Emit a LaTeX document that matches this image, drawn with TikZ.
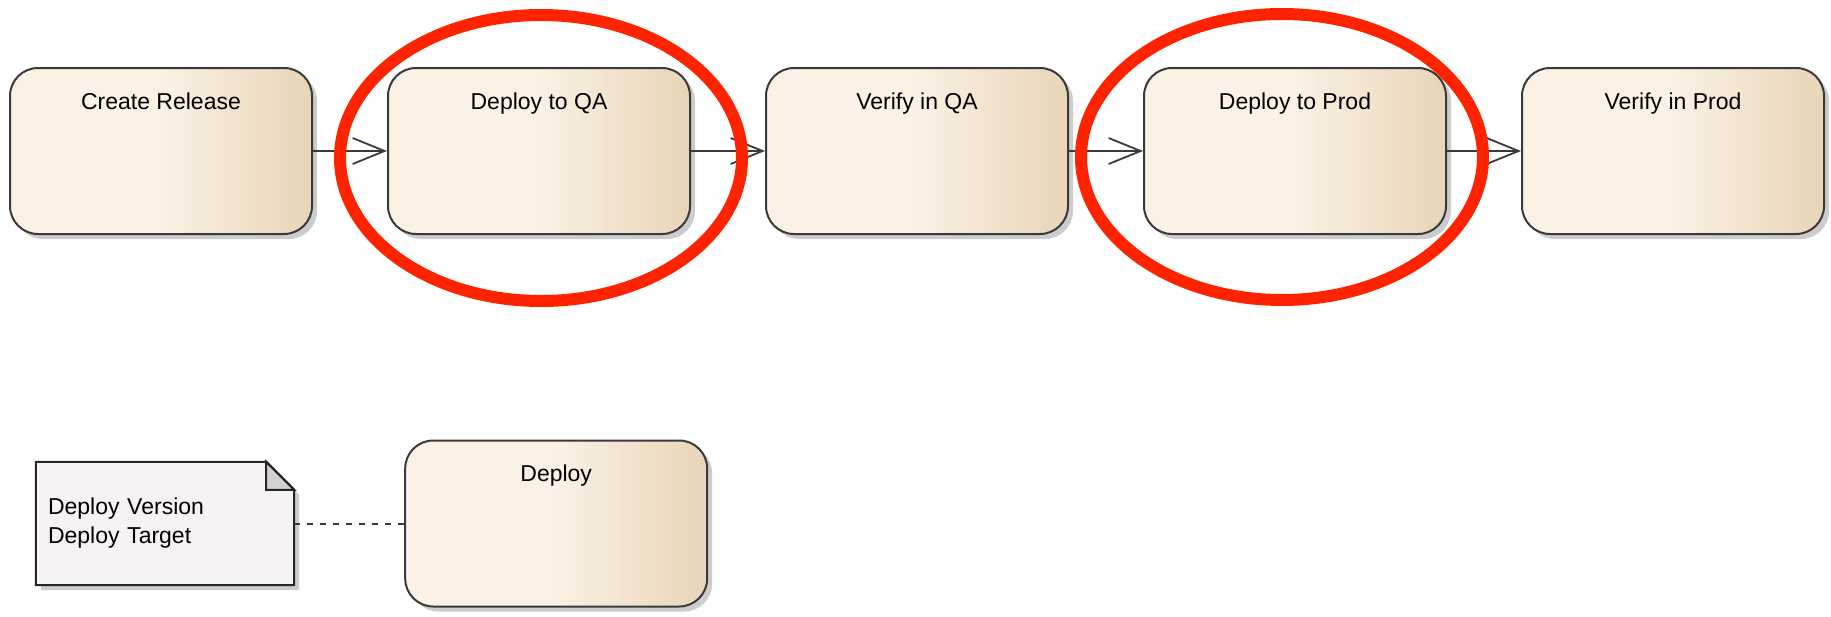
\documentclass[tikz,border=0pt]{standalone}
\usepackage{fontspec}
\setmainfont{Liberation Sans}
\usetikzlibrary{positioning,shadows,arrows.meta,backgrounds}

\definecolor{boxlight}{HTML}{FBF1E4}
\definecolor{boxdark}{HTML}{E7D5B7}
\definecolor{boxline}{HTML}{3A3A3A}
\definecolor{notefill}{HTML}{F6F2F6}
\definecolor{foldgray}{HTML}{D2D2D4}
\definecolor{ringred}{HTML}{FF2300}

\tikzset{
  actbox/.style={rectangle, rounded corners=28pt, draw=boxline, line width=2pt,
    left color=boxlight, right color=boxdark, middle color=boxlight,
    minimum width=302pt, text height=41pt, text depth=125pt, inner ysep=0pt,
    drop shadow={shadow xshift=5pt, shadow yshift=-5pt, fill=black, opacity=0.2}},
  notenode/.style={rectangle, minimum width=258pt, minimum height=123pt,
    text width=234pt, inner xsep=12pt, align=left},
  notebox/.style={draw=black!85, line width=2pt, fill=notefill,
    drop shadow={shadow xshift=5pt, shadow yshift=-5pt, fill=black, opacity=0.2}},
  fold/.style={draw=black!85, line width=2pt, fill=foldgray},
  flow/.style={line width=1.8pt, draw=boxline, -{Straight Barb[length=32pt,width=26pt]}},
  link/.style={draw=boxline, line width=2pt, dash pattern=on 6pt off 7pt},
  ring/.style={draw=ringred, line width=12pt}
}

\begin{document}
\begin{tikzpicture}[x=1pt, y=-1pt, node distance=74pt, font=\fontsize{23}{29}\selectfont]
  \useasboundingbox (0,0) rectangle (1831,616);
  \draw
  node[actbox] (cr) at (161,151) {Create Release}
  node[actbox, right=of cr] (dqa) {Deploy to QA}
  node[actbox, right=of dqa] (vqa) {Verify in QA}
  node[actbox, right=of vqa] (dp) {Deploy to Prod}
  node[actbox, right=of dp] (vp) {Verify in Prod}
  node[notenode] (note) at (165,523.5) {Deploy Version\\Deploy Target}
  node[actbox, right=110pt of note] (dep) {Deploy};
  % note outline with folded corner
  \begin{scope}[on background layer]
    \draw[notebox] (note.north west) -- ([xshift=-28pt]note.north east)
      -- ([yshift=-28pt]note.north east) -- (note.south east)
      -- (note.south west) -- cycle;
    \draw[fold] ([xshift=-28pt]note.north east) |- ([yshift=-28pt]note.north east) -- cycle;
  \end{scope}
  \draw[flow] (cr) -- (dqa);
  \draw[flow] (dqa) -- (vqa);
  \draw[flow] (vqa) -- (dp);
  \draw[flow] (dp) -- (vp);
  \draw[link] (note.east) -- (note.east -| dep.west);
  % highlights
  \draw[ring] ([xshift=2pt,yshift=-7pt]dqa.center) ellipse [x radius=201pt, y radius=143pt];
  \draw[ring] ([xshift=-13pt,yshift=-6pt]dp.center) ellipse [x radius=201pt, y radius=143pt];
\end{tikzpicture}
\end{document}
